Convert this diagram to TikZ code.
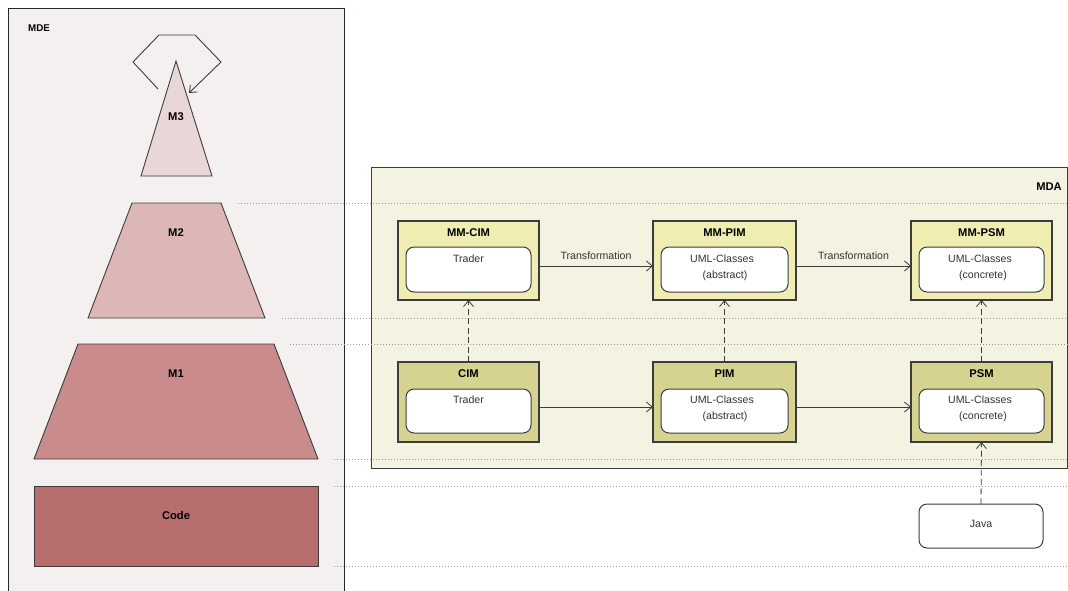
\documentclass[tikz,border=0pt]{standalone}
\usepackage{fontspec}
\setmainfont{Liberation Sans}
\usetikzlibrary{arrows.meta}
\definecolor{mdebg}{HTML}{F5F0F0}
\definecolor{mthree}{HTML}{E9D7D7}
\definecolor{mtwo}{HTML}{DDB6B6}
\definecolor{mone}{HTML}{C98B8B}
\definecolor{codec}{HTML}{B86E6E}
\definecolor{mdabg}{HTML}{F4F2E0}
\definecolor{mmbox}{HTML}{EFEDB2}
\definecolor{mbox}{HTML}{D6D390}
\definecolor{edge}{HTML}{3C3C3C}
\begin{document}
\begin{tikzpicture}[x=1pt,y=-1pt,
  txt/.style={font=\fontsize{10.6}{12}\selectfont, text=black!80, inner sep=0},
  ttl/.style={font=\bfseries\fontsize{11.2}{13}\selectfont, inner sep=0},
  layer/.style={draw=edge, line width=0.9pt},
  outerbox/.style={draw=edge, line width=1.2pt, minimum width=141, minimum height=79, anchor=north west, inner sep=0, outer sep=0},
  innerbox/.style={draw=edge, line width=1pt, fill=white, rounded corners=8pt, minimum width=125, minimum height=45, anchor=north west, inner sep=0, outer sep=0},
  arr/.style={draw=edge, line width=0.8pt, -{Straight Barb[length=6pt,width=10pt]}},
  dep/.style={arr, dash pattern=on 6pt off 3.5pt},
  guide/.style={draw=gray!80, line width=0.6pt, dash pattern=on 0.8pt off 2.2pt}
]
\useasboundingbox (0,0) rectangle (1068,590);
\clip (0,0) rectangle (1068,590);
\fill[white] (0,0) rectangle (1068,590);

% MDE panel
\draw[fill=mdebg, draw=black!85, line width=1pt] (8,600) -- (8,8) -- (344,8) -- (344,600);
\node[ttl, anchor=west, font=\bfseries\fontsize{9.8}{11}\selectfont] (mde) at (28,28) {MDE};

% layers
\draw[layer, fill=mthree] (176,61) -- (212,176) -- (141,176) -- cycle;
\node[ttl] (m3) at (176,117) {M3};
\draw[arr, line width=0.9pt] (158,89) -- (133,62) -- (159,35) -- (195,35) -- (221,62) -- (189,93);

\draw[layer, fill=mtwo] (132,203) -- (221,203) -- (265,318) -- (88,318) -- cycle;
\node[ttl] (m2) at (176,233) {M2};

\draw[layer, fill=mone] (78,344) -- (274,344) -- (318,459) -- (34,459) -- cycle;
\node[ttl] (m1) at (176,374) {M1};

\draw[layer, fill=codec] (34,486) rectangle (318,566);
\node[ttl] (code) at (176,515) {Code};

% MDA panel
\draw[fill=mdabg, draw=edge, line width=1pt] (371,167) rectangle (1067.5,468);
\node[ttl, anchor=east] (mda) at (1062,187) {MDA};

% guide lines
\draw[guide] (238,203) -- (1068,203);
\draw[guide] (282,318) -- (1068,318);
\draw[guide] (290,344) -- (1068,344);
\draw[guide] (334,459) -- (1068,459);
\draw[guide] (334,486) -- (1068,486);
\draw[guide] (334,566) -- (1068,566);

% top row
\node[outerbox, fill=mmbox] (mmcim) at (398,221) {};
\node[outerbox, fill=mmbox, minimum width=143] (mmpim) at (653,221) {};
\node[outerbox, fill=mmbox] (mmpsm) at (911,221) {};
\node[ttl] (mmcimT) at (468.5,233) {MM-CIM};
\node[ttl] (mmpimT) at (724.5,233) {MM-PIM};
\node[ttl] (mmpsmT) at (981.5,233) {MM-PSM};
\node[innerbox] (mmcimI) at (406,247) {};
\node[innerbox, minimum width=127] (mmpimI) at (661,247) {};
\node[innerbox] (mmpsmI) at (919,247) {};
\node[txt] (mmcimA) at (468.5,259) {Trader};
\node[txt] (mmpimA) at (722,259) {UML-Classes};
\node[txt] (mmpimB) at (725,276) {(abstract)};
\node[txt] (mmpsmA) at (980,259) {UML-Classes};
\node[txt] (mmpsmB) at (983,276) {(concrete)};

% bottom row
\node[outerbox, fill=mbox, minimum height=80] (cim) at (398,362) {};
\node[outerbox, fill=mbox, minimum height=80, minimum width=143] (pim) at (653,362) {};
\node[outerbox, fill=mbox, minimum height=80] (psm) at (911,362) {};
\node[ttl] (cimT) at (468.5,374) {CIM};
\node[ttl] (pimT) at (724.5,374) {PIM};
\node[ttl] (psmT) at (981.5,374) {PSM};
\node[innerbox, minimum height=44] (cimI) at (406,389) {};
\node[innerbox, minimum height=44, minimum width=127] (pimI) at (661,389) {};
\node[innerbox, minimum height=44] (psmI) at (919,389) {};
\node[txt] (cimA) at (468.5,400) {Trader};
\node[txt] (pimA) at (722,400) {UML-Classes};
\node[txt] (pimB) at (725,417) {(abstract)};
\node[txt] (psmA) at (980,400) {UML-Classes};
\node[txt] (psmB) at (983,417) {(concrete)};

% Java
\node[draw=edge, line width=1pt, fill=white, rounded corners=8pt, minimum width=124, minimum height=44, anchor=north west, inner sep=0, outer sep=0] (java) at (919,504) {};
\node[txt] (javaT) at (981,524) {Java};

% connectors
\draw[arr] ([yshift=-5.5pt]mmcim.east) -- node[txt, above=6pt] {Transformation} ([yshift=-5.5pt]mmpim.west);
\draw[arr] ([yshift=-5.5pt]mmpim.east) -- node[txt, above=6pt] {Transformation} ([yshift=-5.5pt]mmpsm.west);
\draw[arr] ([yshift=-5pt]cim.east) -- ([yshift=-5pt]pim.west);
\draw[arr] ([yshift=-5pt]pim.east) -- ([yshift=-5pt]psm.west);
\draw[dep] (cim.north) -- (mmcim.south);
\draw[dep] (pim.north) -- (mmpim.south);
\draw[dep] (psm.north) -- (mmpsm.south);
\draw[dep] (java.north) -- (psm.south);
\end{tikzpicture}
\end{document}
